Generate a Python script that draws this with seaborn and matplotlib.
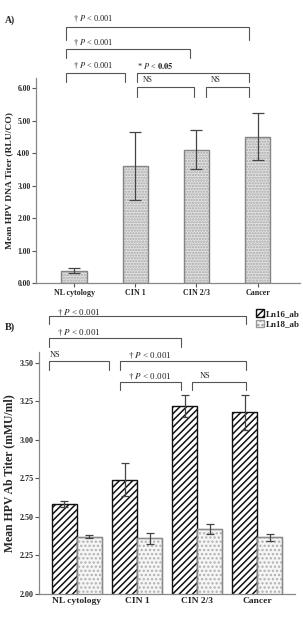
import numpy as np
import pandas as pd
import seaborn as sns
import matplotlib.pyplot as plt
from matplotlib.patches import Patch

# Data
groups = ['NL cytology', 'CIN 1', 'CIN 2/3', 'Cancer']

dna_mean = [0.37, 3.60, 4.10, 4.50]
dna_lo = [0.30, 2.55, 3.50, 3.78]
dna_hi = [0.45, 4.65, 4.70, 5.23]

ln16_mean = [2.583, 2.74, 3.218, 3.18]
ln16_lo = [2.563, 2.635, 3.15, 3.065]
ln16_hi = [2.604, 2.85, 3.29, 3.29]

ln18_mean = [2.372, 2.362, 2.422, 2.368]
ln18_lo = [2.362, 2.325, 2.39, 2.346]
ln18_hi = [2.383, 2.398, 2.452, 2.39]

dna_ticks = [0, 1, 2, 3, 4, 5, 6]
ab_ticks = [2.00, 2.25, 2.50, 2.75, 3.00, 3.25, 3.50]

sns.set_style('white')
plt.rcParams['font.family'] = ['Liberation Serif', 'DejaVu Serif']
plt.rcParams['mathtext.fontset'] = 'stix'
plt.rcParams['hatch.linewidth'] = 1.1

fig = plt.figure(figsize=(3.03, 6.34), dpi=100)
axA = fig.add_axes([0.119, 0.5536, 0.871, 0.3234])
axB = fig.add_axes([0.129, 0.0631, 0.845, 0.382])

grey = '#555555'


def style_axis(ax):
    for s in ['top', 'right']:
        ax.spines[s].set_visible(False)
    for s in ['left', 'bottom']:
        ax.spines[s].set_color('#888888')
        ax.spines[s].set_linewidth(0.9)
    ax.tick_params(axis='y', length=3, width=0.8, color='#555555', pad=1, left=True)
    for lab in ax.get_yticklabels() + ax.get_xticklabels():
        lab.set_fontweight('bold')


def bracket(ax, x1, x2, ytop, ydrop, label, tx, ty, size=6):
    ax.plot([x1, x1, x2, x2], [ydrop, ytop, ytop, ydrop], color=grey, lw=0.8,
            clip_on=False)
    ax.text(tx, ty, label, fontsize=size, ha='left', va='center', color='#222222')


# ---------------- Panel A ----------------
dfA = pd.DataFrame({'group': groups, 'value': dna_mean})
sns.barplot(data=dfA, x='group', y='value', ax=axA, errorbar=None, width=0.41,
            color='#e2e2e2', edgecolor='#a8a8a8', linewidth=0.9, hatch='......')
xs = np.arange(len(groups))
# darker outline on top of the stippled fill
for bar in axA.patches:
    axA.add_patch(plt.Rectangle((bar.get_x(), bar.get_y()), bar.get_width(),
                                bar.get_height(), fill=False, edgecolor='#858585',
                                linewidth=0.9))
axA.errorbar(xs, dna_mean,
             yerr=[np.array(dna_mean) - np.array(dna_lo), np.array(dna_hi) - np.array(dna_mean)],
             fmt='none', ecolor='#444444', elinewidth=0.9, capsize=4, capthick=0.9)
axA.set_ylim(0, 6.31)
axA.set_xlim(-0.62, 3.69)
axA.set_yticks(dna_ticks)
axA.set_yticklabels([f'{t:.2f}' for t in dna_ticks], fontsize=5.5)
axA.set_xticks(xs)
axA.set_xticklabels(groups, fontsize=5.8)
axA.tick_params(axis='x', length=3, width=0.8, color='#555555', pad=1, bottom=True)
axA.set_xlabel('')
axA.set_ylabel('Mean HPV DNA Titer (RLU/CO)', fontsize=6.8, fontweight='bold', labelpad=3)
style_axis(axA)

p001 = r'† $P$ < 0.001'
bracket(axA, -0.13, 2.86, 7.88, 7.48, p001, -0.02, 8.13)
bracket(axA, -0.13, 1.90, 7.20, 6.92, p001, -0.02, 7.40)
bracket(axA, -0.13, 0.84, 6.46, 6.18, p001, -0.02, 6.69)
bracket(axA, 1.03, 2.86, 6.46, 6.18, r'* $P$ < $\mathbf{0.05}$', 1.03, 6.69)
bracket(axA, 1.03, 1.96, 6.03, 5.72, 'NS', 1.12, 6.26, size=5.5)
bracket(axA, 2.16, 2.86, 6.03, 5.72, 'NS', 2.24, 6.26, size=5.5)

# ---------------- Panel B ----------------
dfB = pd.DataFrame({
    'group': groups * 2,
    'antibody': ['Ln16_ab'] * 4 + ['Ln18_ab'] * 4,
    'value': ln16_mean + ln18_mean,
})
sns.barplot(data=dfB, x='group', y='value', hue='antibody', ax=axB, errorbar=None,
            width=0.83, palette=['white', '#f6f6f6'], legend=False, linewidth=1.0)
bars = list(axB.patches)
lo_all = ln16_lo + ln18_lo
hi_all = ln16_hi + ln18_hi
for i, bar in enumerate(bars[:8]):
    if i < 4:
        bar.set_edgecolor('#111111')
        bar.set_hatch('/////')
    else:
        bar.set_edgecolor('#b0b0b0')
        bar.set_hatch('....')
        axB.add_patch(plt.Rectangle((bar.get_x(), bar.get_y()), bar.get_width(),
                                    bar.get_height(), fill=False, edgecolor='#8a8a8a',
                                    linewidth=1.0))
    cx = bar.get_x() + bar.get_width() / 2
    v = dfB['value'][i]
    axB.errorbar([cx], [v], yerr=[[v - lo_all[i]], [hi_all[i] - v]], fmt='none',
                 ecolor='#444444', elinewidth=0.9, capsize=3, capthick=0.9)
axB.set_ylim(2.0, 3.57)
axB.set_xlim(-0.63, 3.63)
axB.set_yticks(ab_ticks)
axB.set_yticklabels([f'{t:.2f}' for t in ab_ticks], fontsize=5.8)
axB.set_xticks(xs)
axB.set_xticklabels(groups, fontsize=6.8)
axB.tick_params(axis='x', direction='in', length=4, width=0.8, color='#333333', pad=2,
                bottom=True)
axB.set_xlabel('')
axB.set_ylabel('Mean HPV Ab Titer (mMU/ml)', fontsize=8.5, fontweight='bold', labelpad=3)
style_axis(axB)

bracket(axB, -0.47, 2.82, 3.80, 3.75, p001, -0.33, 3.825, size=6.5)
bracket(axB, -0.47, 1.73, 3.66, 3.60, p001, -0.33, 3.695, size=6.5)
bracket(axB, -0.47, 0.53, 3.51, 3.455, 'NS', -0.45, 3.548, size=6)
bracket(axB, 0.72, 2.82, 3.51, 3.455, p001, 0.85, 3.548, size=6.5)
bracket(axB, 0.72, 1.73, 3.377, 3.32, p001, 0.85, 3.41, size=6.5)
bracket(axB, 1.92, 2.82, 3.377, 3.32, 'NS', 2.05, 3.41, size=6)

handles = [Patch(facecolor='white', edgecolor='#111111', hatch='/////', label='Ln16_ab'),
           Patch(facecolor='#f6f6f6', edgecolor='#9a9a9a', hatch='....', label='Ln18_ab')]
fig.legend(handles=handles, loc='upper left', bbox_to_anchor=(0.846, 0.512),
           frameon=False, prop={'weight': 'bold', 'size': 6.5},
           handlelength=0.9, handleheight=0.9, handletextpad=0.2,
           labelspacing=0.15, borderaxespad=0, borderpad=0)

fig.text(0.015, 0.968, 'A)', fontsize=7, fontweight='bold', va='center')
fig.text(0.015, 0.484, 'B)', fontsize=7.5, fontweight='bold', va='center')

fig.savefig('out.png', dpi=100)
